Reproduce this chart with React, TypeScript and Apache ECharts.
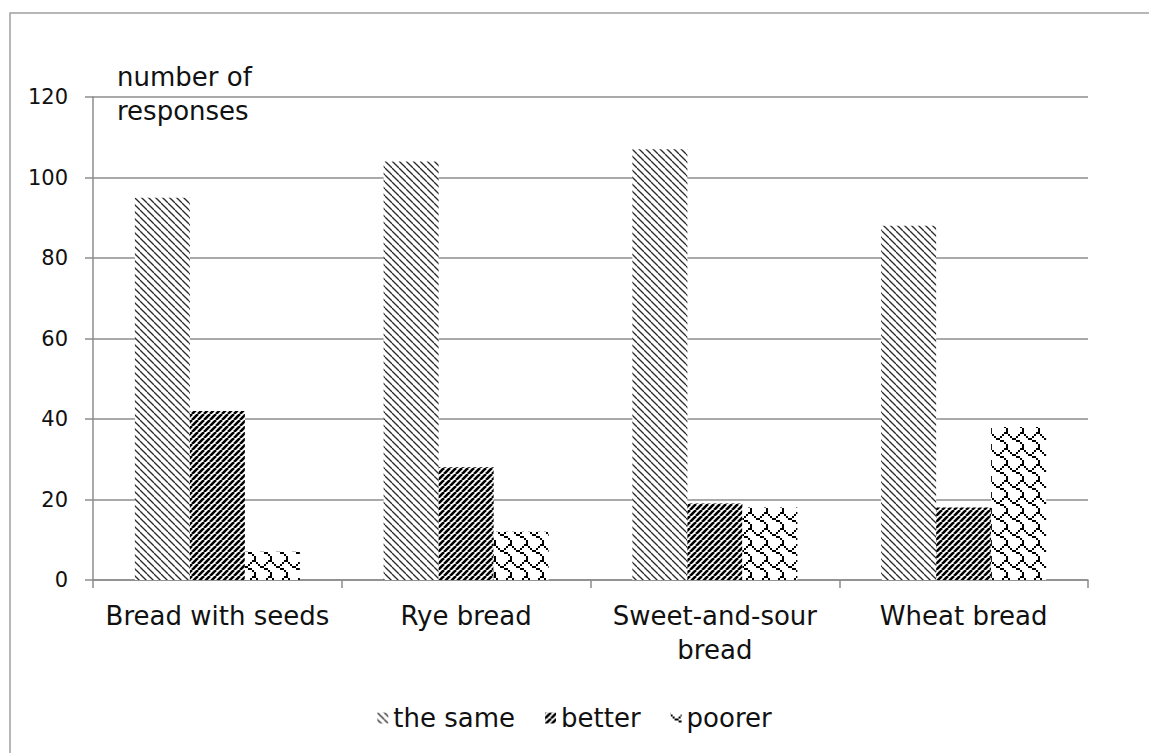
import React, { useEffect, useRef } from "react";
import * as echarts from "echarts";

// Bread survey: how the taste was judged, by bread type
const categories = ["Bread with seeds", "Rye bread", "Sweet-and-sour\nbread", "Wheat bread"];
const seriesNames = ["the same", "better", "poorer"];
const sameValues = [95, 104, 107, 88];
const betterValues = [42, 28, 19, 18];
const poorerValues = [7, 12, 18, 38];
const yTicks = { min: 0, max: 120, interval: 20 };

const FONT = "DejaVu Sans, Verdana, sans-serif";
const GRID_GREY = "#8c8c8c";

function tile(w: number, h: number, draw: (ctx: CanvasRenderingContext2D) => void) {
  const c = document.createElement("canvas");
  c.width = w;
  c.height = h;
  const ctx = c.getContext("2d")!;
  ctx.fillStyle = "#ffffff";
  ctx.fillRect(0, 0, w, h);
  draw(ctx);
  return { image: c, repeat: "repeat", imageWidth: w, imageHeight: h } as any;
}

// thin dark downward diagonal
function downDiagonal() {
  const s = 7;
  return tile(s, s, (ctx) => {
    ctx.strokeStyle = "#2a2a2a";
    ctx.lineWidth = 1.3;
    for (const o of [-s, 0, s]) {
      ctx.beginPath();
      ctx.moveTo(o, 0);
      ctx.lineTo(o + s, s);
      ctx.stroke();
    }
  });
}

// wide black upward diagonal
function upDiagonal() {
  const s = 6;
  return tile(s, s, (ctx) => {
    ctx.strokeStyle = "#000000";
    ctx.lineWidth = 2.6;
    for (const o of [-s, 0, s]) {
      ctx.beginPath();
      ctx.moveTo(o, s);
      ctx.lineTo(o + s, 0);
      ctx.stroke();
    }
  });
}

// classic 8x8 shingle hatch bitmap, drawn at 2x
const SHINGLE_ROWS = [0x03, 0x84, 0x48, 0x30, 0x0c, 0x02, 0x01, 0x01];
function shingle() {
  const k = 2;
  return tile(8 * k, 8 * k, (ctx) => {
    ctx.fillStyle = "#000000";
    SHINGLE_ROWS.forEach((bits, row) => {
      for (let col = 0; col < 8; col++) {
        if (bits & (0x80 >> col)) ctx.fillRect(col * k, row * k, k, k);
      }
    });
  });
}

export default function App() {
  const ref = useRef<HTMLDivElement>(null);

  useEffect(() => {
    if (!ref.current) return;
    const chart = echarts.init(ref.current, null, { renderer: "svg" });
    const fills = [downDiagonal(), upDiagonal(), shingle()];
    const values = [sameValues, betterValues, poorerValues];

    chart.setOption({
      animation: false,
      backgroundColor: "#ffffff",
      textStyle: { fontFamily: FONT },
      graphic: [
        {
          type: "rect",
          shape: { x: 10, y: 13, width: 1300, height: 900 },
          style: { fill: "none", stroke: "#a0a0a0", lineWidth: 1.5 },
          silent: true,
        },
        {
          type: "text",
          left: 117,
          top: 60,
          style: {
            text: "number of\nresponses",
            font: `26px ${FONT}`,
            fill: "#111111",
            lineHeight: 34,
          },
        },
      ],
      grid: { left: 93, right: 61, top: 97, bottom: 173, containLabel: false },
      legend: {
        bottom: 17,
        left: "center",
        itemWidth: 11,
        itemHeight: 11,
        itemGap: 30,
        icon: "rect",
        textStyle: { fontSize: 26, color: "#111111", fontFamily: FONT },
        data: seriesNames,
      },
      xAxis: {
        type: "category",
        data: categories,
        axisLine: { lineStyle: { color: GRID_GREY, width: 1.5 } },
        axisTick: { show: true, length: 8, interval: 0, lineStyle: { color: GRID_GREY, width: 1.5 } },
        axisLabel: {
          interval: 0,
          fontSize: 26,
          color: "#111111",
          margin: 19,
          lineHeight: 34,
          fontFamily: FONT,
        },
      },
      yAxis: {
        type: "value",
        min: yTicks.min,
        max: yTicks.max,
        interval: yTicks.interval,
        axisLine: { show: true, lineStyle: { color: GRID_GREY, width: 1.5 } },
        axisTick: { show: true, length: 8, lineStyle: { color: GRID_GREY, width: 1.5 } },
        splitLine: { show: true, lineStyle: { color: GRID_GREY, width: 1.5 } },
        axisLabel: { fontSize: 21, color: "#111111", margin: 25, fontFamily: FONT },
      },
      series: seriesNames.map((name, i) => ({
        name,
        type: "bar",
        data: values[i],
        barWidth: 55,
        barGap: "0%",
        itemStyle: { color: fills[i] },
      })),
    });

    return () => chart.dispose();
  }, []);

  return (
    <div
      ref={ref}
      style={{ position: "fixed", left: 0, top: 0, width: 1149, height: 753 }}
    />
  );
}
